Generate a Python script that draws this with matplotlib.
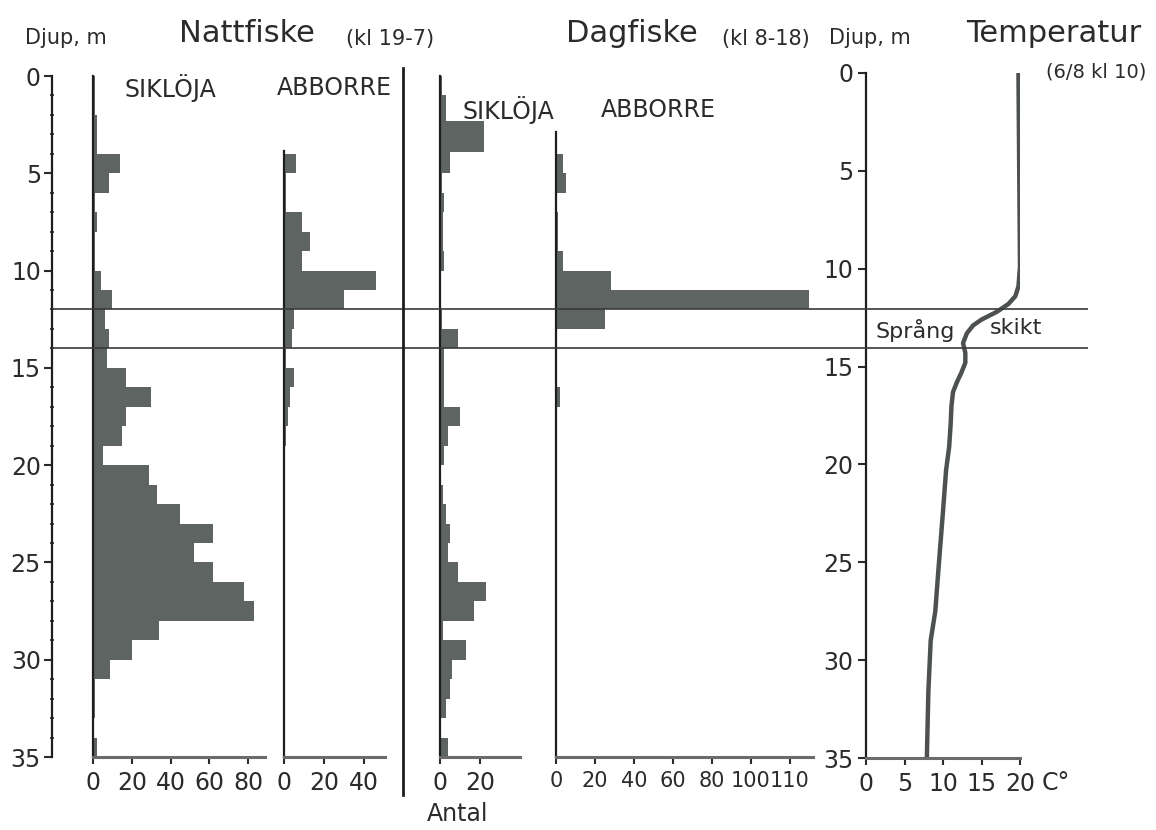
import numpy as np
import matplotlib.pyplot as plt
from matplotlib.lines import Line2D

W, H = 1156, 830

# 1 m depth bins, 0-35 m
djup_kanter = list(range(0, 36))

natt_sikloja = [1, 1, 2, 2, 14, 8, 1, 2, 1, 1, 4, 10, 6, 8, 7, 17, 30, 17, 15, 5,
                29, 33, 45, 62, 52, 62, 78, 83, 34, 20, 9, 1, 1, 0, 2]
natt_abborre = [0, 0, 0, 0, 6, 1, 1, 9, 13, 9, 46, 30, 5, 4, 1, 5, 3, 2, 1, 0,
                0, 0, 0, 0, 0, 0, 0, 0, 0, 0, 0, 0, 0, 0, 0]

dag_sik_kanter = [0, 1, 2.3, 3.9, 5, 6, 7, 8, 9, 10, 11, 12, 13, 14, 15, 16, 17, 18,
                  19, 20, 21, 22, 23, 24, 25, 26, 27, 28, 29, 30, 31, 32, 33, 34, 35]
dag_sikloja = [1, 3, 22, 5, 1, 2, 1.5, 1.5, 2, 0.5, 0.5, 1, 9, 2, 2, 2, 10, 4, 2, 0,
               1.5, 3, 5, 4, 9, 23, 17, 1.5, 13, 6, 5, 3, 0, 4]
dag_abborre = [0, 0, 0, 0.5, 3.5, 5, 0.5, 1, 1, 3.5, 28, 130, 25, 0.5, 0.5, 0.5, 2, 0,
               0, 0, 0, 0, 0, 0, 0, 0, 0, 0, 0, 0, 0, 0, 0, 0, 0]

temp_djup = [0, 5, 9.9, 10.9, 11.4, 11.8, 12.2, 12.6, 12.9, 13.3, 13.8, 14.3, 14.8,
             15.3, 15.8, 16.3, 17.0, 17.9, 19.1, 20.3, 22.4, 25.4, 27.5, 29.0, 31.6, 35.0]
temp_grader = [19.8, 19.9, 20.0, 19.8, 19.4, 18.5, 17.0, 15.0, 13.9, 13.1, 12.6, 12.9,
               12.9, 12.4, 11.8, 11.3, 11.1, 11.0, 10.8, 10.4, 10.0, 9.4, 9.0, 8.4, 8.1, 7.9]

sprangskikt = [12, 14]

TXT = '#2b2b2b'
BAR = '#5e6461'
plt.rcParams['font.family'] = 'DejaVu Sans'
plt.rcParams['text.color'] = TXT
plt.rcParams['xtick.color'] = TXT
plt.rcParams['ytick.color'] = TXT
plt.rcParams['xtick.labelcolor'] = TXT
plt.rcParams['ytick.labelcolor'] = TXT

fig = plt.figure(figsize=(W / 100, H / 100), dpi=100)


def px_axes(x0, x1, ytop, ybot):
    return fig.add_axes([x0 / W, 1 - ybot / H, (x1 - x0) / W, (ybot - ytop) / H])


def ftext(x, y, s, **kw):
    fig.text(x / W, 1 - y / H, s, **kw)


Y0, Y35 = 76, 757
TICK_FS = 17


def bar_panel(x0, x1, xmax, edges, counts, ticks, labels, spine_top=0, fs=TICK_FS):
    ax = px_axes(x0, x1, Y0, Y35)
    edges = np.array(edges, dtype=float)
    ax.barh(edges[:-1], counts, height=np.diff(edges), align='edge',
            color=BAR, edgecolor='none')
    ax.set_ylim(35, 0)
    ax.set_xlim(0, xmax)
    ax.patch.set_alpha(0)
    for s in ['top', 'right']:
        ax.spines[s].set_visible(False)
    ax.spines['left'].set_bounds(35, spine_top)
    ax.spines['left'].set_linewidth(1.6)
    ax.spines['left'].set_color('#1e1e1e')
    ax.spines['bottom'].set_linewidth(2.2)
    ax.spines['bottom'].set_color('#6b6b6b')
    ax.set_yticks([])
    ax.set_xticks(ticks)
    ax.set_xticklabels(labels)
    ax.tick_params(axis='x', direction='out', length=5, width=1.5, pad=5,
                   labelsize=fs)
    return ax


bar_panel(93, 265, 88.7, djup_kanter, natt_sikloja,
          [0, 20, 40, 60, 80], ['0', '20', '40', '60', '80'])
bar_panel(284, 385, 50.5, djup_kanter, natt_abborre,
          [0, 20, 40], ['0', '20', '40'], spine_top=3.85)
bar_panel(440, 520, 40, dag_sik_kanter, dag_sikloja, [0, 20], ['0', '20'])
bar_panel(556, 813, 132, djup_kanter, dag_abborre,
          [0, 20, 40, 60, 80, 100, 120],
          ['0', '20', '40', '60', '80', '100', '110'], spine_top=2.9, fs=15)

# left depth axis
axd = px_axes(52, 53, Y0, Y35)
axd.set_ylim(35, 0)
axd.set_xticks([])
for s in ['top', 'right', 'bottom']:
    axd.spines[s].set_visible(False)
axd.spines['left'].set_linewidth(1.6)
axd.spines['left'].set_color('#1e1e1e')
axd.set_yticks(range(0, 36, 5))
axd.set_yticks(range(0, 36), minor=True)
axd.tick_params(axis='y', which='major', direction='out', length=6, width=1.5,
                pad=2, labelsize=TICK_FS)
axd.tick_params(axis='y', which='minor', direction='inout', length=3, width=1.2)

# temperature panel
axt = px_axes(866, 1020, 73, 758)
axt.plot(temp_grader, temp_djup, color='#4d524f', lw=3.2, solid_capstyle='round')
axt.set_ylim(35, 0)
axt.set_xlim(0, 20)
axt.patch.set_alpha(0)
for s in ['top', 'right']:
    axt.spines[s].set_visible(False)
axt.spines['left'].set_linewidth(1.6)
axt.spines['left'].set_color('#1e1e1e')
axt.spines['bottom'].set_linewidth(2.2)
axt.spines['bottom'].set_color('#6b6b6b')
axt.set_yticks(range(0, 36, 5))
axt.set_xticks([0, 5, 10, 15, 20])
axt.tick_params(axis='y', direction='out', length=6, width=1.5, pad=3,
                labelsize=TICK_FS)
axt.tick_params(axis='x', direction='out', length=5, width=1.5, pad=5,
                labelsize=TICK_FS)

# thermocline lines across the whole figure
axo = px_axes(52, 1088, Y0, Y35)
axo.set_ylim(35, 0)
axo.set_xlim(0, 1)
axo.axis('off')
axo.hlines(sprangskikt, 0, 1, color='#3a3a3a', lw=1.2)

# divider between night and day
fig.add_artist(Line2D([403 / W, 403 / W], [1 - 68 / H, 1 - 795 / H],
                      color='#1e1e1e', lw=2))

# texts
ftext(66, 38, 'Djup, m', fontsize=15, ha='center', va='center')
ftext(247, 34, 'Nattfiske', fontsize=22, ha='center', va='center')
ftext(390, 39, '(kl 19-7)', fontsize=15, ha='center', va='center')
ftext(632, 34, 'Dagfiske', fontsize=22, ha='center', va='center')
ftext(766, 39, '(kl 8-18)', fontsize=15, ha='center', va='center')
ftext(870, 38, 'Djup, m', fontsize=15, ha='center', va='center')
ftext(1054, 33, 'Temperatur', fontsize=22, ha='center', va='center')
ftext(1096, 72, '(6/8 kl 10)', fontsize=14, ha='center', va='center')
ftext(170, 88, 'SIKLÖJA', fontsize=17, ha='center', va='center')
ftext(334, 88, 'ABBORRE', fontsize=17, ha='center', va='center')
ftext(508, 110, 'SIKLÖJA', fontsize=17, ha='center', va='center')
ftext(658, 110, 'ABBORRE', fontsize=17, ha='center', va='center')
ftext(915, 330, 'Språng', fontsize=16, ha='center', va='center')
ftext(1016, 328, 'skikt', fontsize=16, ha='center', va='center')
ftext(458, 814, 'Antal', fontsize=17, ha='center', va='center')
ftext(1042, 783, 'C°', fontsize=TICK_FS, ha='left', va='center')

fig.savefig('out.png', dpi=100)
